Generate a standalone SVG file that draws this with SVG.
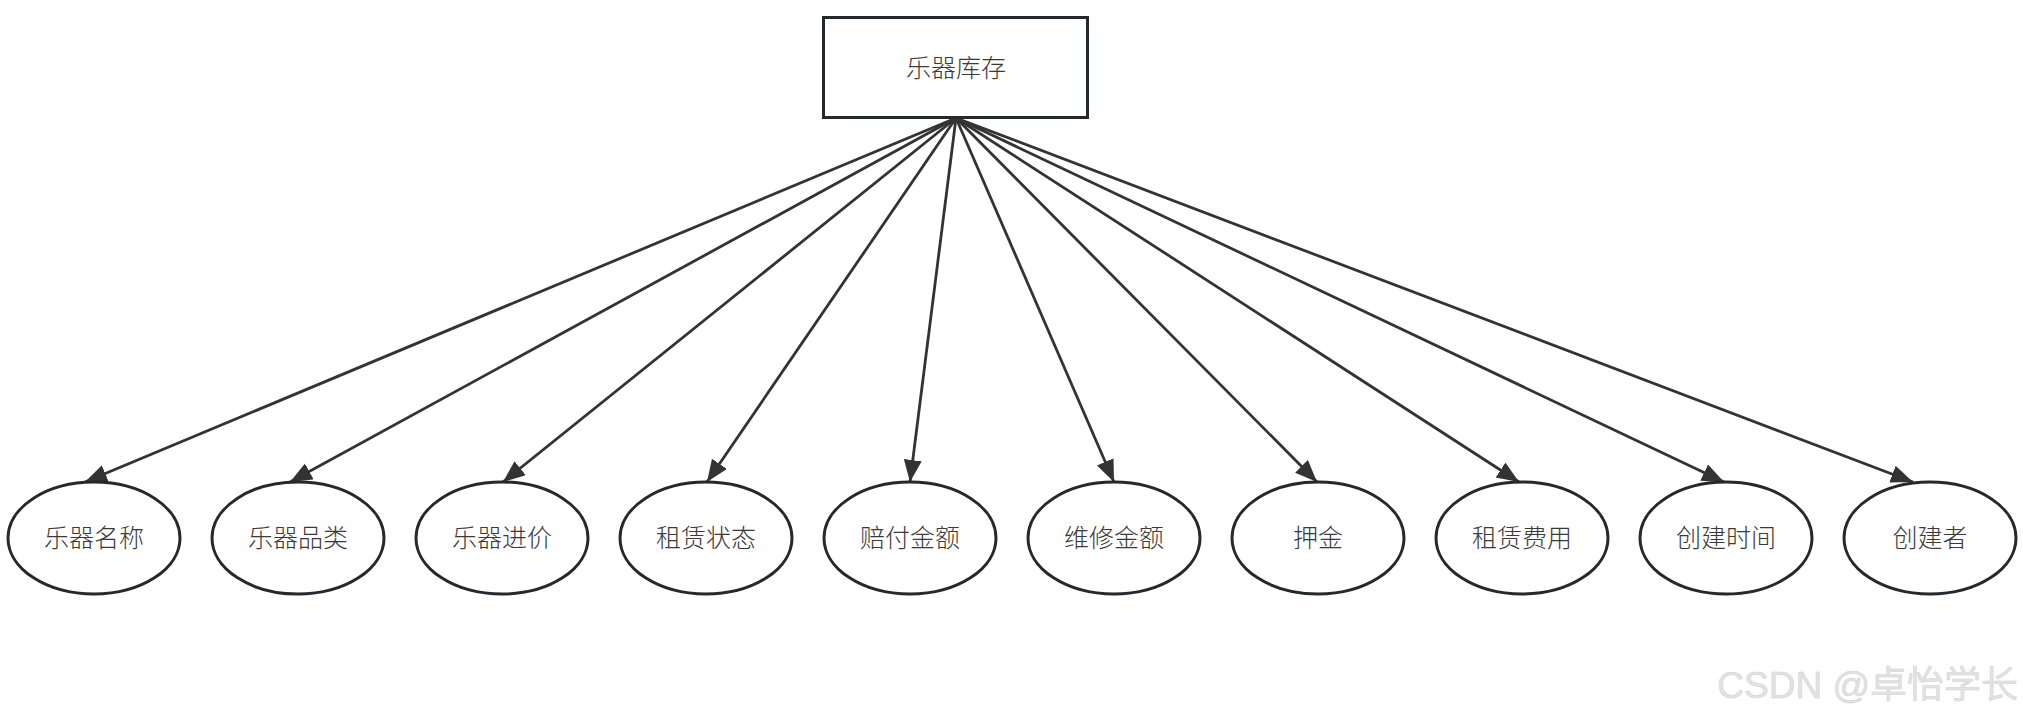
<svg xmlns="http://www.w3.org/2000/svg" width="2023" height="719" viewBox="0 0 2023 719">
<style>
.box{fill:#fff;stroke:#24292e;stroke-width:3}
.ell{fill:#fff;stroke:#24292e;stroke-width:3}
.lbl{font-family:"Noto Sans CJK SC","Liberation Sans",sans-serif;font-size:25px;font-weight:300;fill:#3a3a3a;text-anchor:middle;dominant-baseline:central}
.edge{stroke:#333;stroke-width:2.8;fill:none;marker-end:url(#arr)}
.wm{font-family:"Liberation Sans","Noto Sans CJK SC",sans-serif;font-size:37px;fill:#e2e2e2;stroke:#d2d2d2;stroke-width:0.5;text-anchor:end}
</style>
<defs>
<marker id="arr" markerUnits="userSpaceOnUse" markerWidth="24" markerHeight="20" refX="22" refY="9" orient="auto">
<path d="M0,0 L22,9 L0,18 Z" fill="#333"/>
</marker>
</defs>
<rect width="2023" height="719" fill="#fff"/>
<g id="edges">
<line class="edge" x1="956" y1="118" x2="85" y2="482"/>
<line class="edge" x1="956" y1="118" x2="290" y2="482"/>
<line class="edge" x1="956" y1="118" x2="503" y2="482"/>
<line class="edge" x1="956" y1="118" x2="707" y2="482"/>
<line class="edge" x1="956" y1="118" x2="910" y2="482"/>
<line class="edge" x1="956" y1="118" x2="1114" y2="482"/>
<line class="edge" x1="956" y1="118" x2="1317" y2="482"/>
<line class="edge" x1="956" y1="118" x2="1519" y2="482"/>
<line class="edge" x1="956" y1="118" x2="1724" y2="482"/>
<line class="edge" x1="956" y1="118" x2="1913" y2="482"/>
</g>
<g id="root"><rect class="box" x="823.5" y="17.5" width="264" height="100"/><text class="lbl" x="956" y="66">乐器库存</text></g>
<g id="n1"><ellipse class="ell" cx="94" cy="538" rx="86" ry="56"/><text class="lbl" x="94" y="536">乐器名称</text></g>
<g id="n2"><ellipse class="ell" cx="298" cy="538" rx="86" ry="56"/><text class="lbl" x="298" y="536">乐器品类</text></g>
<g id="n3"><ellipse class="ell" cx="502" cy="538" rx="86" ry="56"/><text class="lbl" x="502" y="536">乐器进价</text></g>
<g id="n4"><ellipse class="ell" cx="706" cy="538" rx="86" ry="56"/><text class="lbl" x="706" y="536">租赁状态</text></g>
<g id="n5"><ellipse class="ell" cx="910" cy="538" rx="86" ry="56"/><text class="lbl" x="910" y="536">赔付金额</text></g>
<g id="n6"><ellipse class="ell" cx="1114" cy="538" rx="86" ry="56"/><text class="lbl" x="1114" y="536">维修金额</text></g>
<g id="n7"><ellipse class="ell" cx="1318" cy="538" rx="86" ry="56"/><text class="lbl" x="1318" y="536">押金</text></g>
<g id="n8"><ellipse class="ell" cx="1522" cy="538" rx="86" ry="56"/><text class="lbl" x="1522" y="536">租赁费用</text></g>
<g id="n9"><ellipse class="ell" cx="1726" cy="538" rx="86" ry="56"/><text class="lbl" x="1726" y="536">创建时间</text></g>
<g id="n10"><ellipse class="ell" cx="1930" cy="538" rx="86" ry="56"/><text class="lbl" x="1930" y="536">创建者</text></g>
<text class="wm" x="2018" y="698">CSDN @卓怡学长</text>
</svg>
